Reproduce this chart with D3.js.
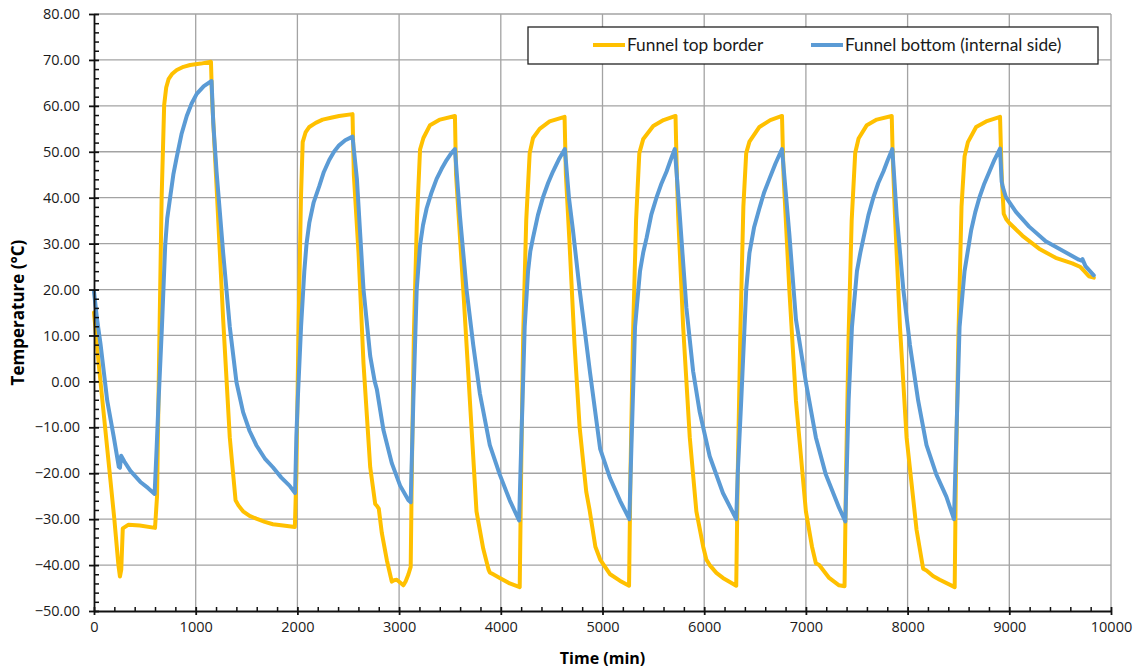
<!DOCTYPE html>
<html>
<head>
<meta charset="utf-8">
<script src="https://cdn.jsdelivr.net/npm/d3@7"></script>
<style>
  body { margin: 0; background: #fff; }
  .tick text { font-family: 'Open Sans', sans-serif; font-size: 14.5px; fill: #1a1a1a; }
</style>
</head>
<body>
<svg id="chart"></svg>
<script>
// Funnel top border (yellow)
const topTime = [
  0, 50, 100, 150, 200, 240, 255, 268, 283, 340, 450, 600,
  620, 640, 665, 690, 710, 733, 770, 814, 880, 945, 1050, 1150,
  1160, 1205, 1270, 1335, 1392, 1420, 1466, 1530, 1596, 1680, 1759, 1860, 1975,
  1990, 2010, 2035, 2052, 2080, 2117, 2180, 2248, 2330, 2410, 2542,
  2555, 2601, 2650, 2716, 2765, 2785, 2800, 2830, 2880, 2928, 2950, 2977, 3010, 3042, 3065, 3092, 3114,
  3125, 3145, 3175, 3206, 3239, 3304, 3402, 3549,
  3560, 3631, 3696, 3761, 3827, 3880, 3892, 3925, 3990, 4088, 4186,
  4200, 4220, 4250, 4284, 4317, 4382, 4480, 4627,
  4640, 4676, 4725, 4775, 4840, 4873, 4930, 4977, 5075, 5170, 5261,
  5275, 5300, 5330, 5362, 5401, 5499, 5600, 5718,
  5730, 5744, 5793, 5858, 5923, 5990, 6021, 6054, 6120, 6184, 6315,
  6330, 6355, 6385, 6413, 6445, 6543, 6650, 6765,
  6780, 6837, 6902, 7000, 7060, 7098, 7131, 7229, 7326, 7380,
  7395, 7420, 7450, 7485, 7518, 7599, 7697, 7844,
  7855, 7876, 7925, 7990, 8088, 8153, 8186, 8250, 8316, 8463,
  8475, 8500, 8530, 8560, 8593, 8674, 8772, 8909,
  8925, 8945, 8970, 9000, 9130, 9293, 9456, 9619, 9700, 9733, 9782, 9831
];
const topTemp = [
  15, 3, -8, -19, -30, -40, -42.5, -41, -32, -31.2, -31.4, -31.9,
  -25, 5, 40, 60.2, 64, 65.8, 67, 67.8, 68.5, 68.9, 69.2, 69.6,
  62, 42.5, 13.5, -12.2, -25.9, -27, -28.3, -29.3, -29.9, -30.6, -31.1, -31.4, -31.7,
  -20, 10, 40, 52.1, 54.2, 55.4, 56.3, 57, 57.4, 57.8, 58.2,
  45, 28, 3.9, -18.7, -26.7, -27.2, -27.7, -33, -39, -43.6, -43.3, -43.2, -43.8, -44.4, -43.5, -42, -40.4,
  -20, 10, 35, 50.5, 53, 55.8, 57, 57.8,
  45, 20, -4.2, -28.3, -36.4, -41, -41.6, -42, -42.8, -44, -44.8,
  -20, 10, 35, 49.7, 53, 55, 56.6, 57.6,
  45, 30, 8, -10, -24, -28, -36, -38.8, -42, -43.4, -44.5,
  -20, 10, 35, 49.7, 52.8, 55.6, 56.9, 57.8,
  46, 36.1, 11.9, -12.2, -28.3, -36, -38.8, -40, -41.7, -42.8, -44.5,
  -20, 10, 38, 49.7, 52.2, 55.4, 56.9, 57.8,
  45, 20, -4.2, -28.3, -36, -39.6, -40, -42.8, -44.4, -44.6,
  -20, 10, 35, 49.8, 52.9, 55.8, 57, 57.8,
  48, 36.1, 11.9, -12.2, -32.3, -40.8, -41.2, -42.4, -43.2, -44.8,
  -20, 10, 38, 49, 52.1, 55.4, 56.6, 57.6,
  45, 36.5, 35.3, 34.5, 31.7, 28.9, 26.9, 25.7, 24.9, 24.1, 22.9, 22.6
];

// Funnel bottom, internal side (blue)
const bottomTime = [
  0, 30, 65, 130, 195, 244, 255, 267, 300, 358, 456, 530, 596,
  615, 635, 668, 700, 720, 749, 780, 814, 860, 912, 960, 1010, 1080, 1156,
  1173, 1205, 1270, 1335, 1401, 1466, 1530, 1596, 1680, 1759, 1840, 1922, 1977,
  1990, 2003, 2036, 2068, 2090, 2117, 2160, 2215, 2260, 2313, 2360, 2410, 2470, 2542,
  2585, 2650, 2716, 2760, 2781, 2846, 2928, 3010, 3092, 3114,
  3140, 3173, 3206, 3235, 3271, 3320, 3369, 3418, 3467, 3510, 3549,
  3598, 3663, 3729, 3794, 3892, 3990, 4088, 4180,
  4203, 4235, 4268, 4290, 4317, 4365, 4415, 4465, 4513, 4570, 4630,
  4670, 4709, 4775, 4877, 4977, 5075, 5173, 5264,
  5287, 5320, 5369, 5400, 5434, 5480, 5532, 5580, 5630, 5670, 5711,
  5760, 5825, 5891, 5956, 6054, 6184, 6315,
  6330, 6364, 6413, 6445, 6490, 6543, 6590, 6641, 6700, 6765,
  6837, 6902, 7000, 7098, 7196, 7326, 7388,
  7420, 7453, 7502, 7535, 7567, 7615, 7664, 7712, 7762, 7805, 7850,
  7893, 7958, 8023, 8104, 8186, 8283, 8381, 8456,
  8479, 8511, 8560, 8625, 8665, 8707, 8755, 8805, 8855, 8909,
  8925, 8935, 8967, 9065, 9195, 9358, 9521, 9684, 9710, 9720, 9749, 9831
];
const bottomTemp = [
  19.5, 13.5, 8, -4.2, -12.2, -18.6, -18.8, -16.2, -17.5, -19.5, -21.9, -23.2, -24.5,
  -15, -4.2, 11.9, 29.6, 35.5, 40.1, 45, 48.9, 53.8, 57.8, 60.5, 62.6, 64.3, 65.4,
  56.2, 45.7, 28, 11.9, -0.2, -6.7, -10.8, -13.9, -16.8, -18.7, -20.9, -22.7, -24.3,
  -12, -4.2, 11.9, 24, 30, 34.5, 39, 42.5, 45.6, 48.2, 50, 51.4, 52.5, 53.3,
  44.1, 20, 5.5, 0, -1.7, -10.6, -17.8, -22.7, -25.9, -26.3,
  -4.2, 20, 29.6, 34, 37.7, 41.2, 44.1, 46.3, 48.2, 49.6, 50.6,
  36.1, 20, 7.9, -2.6, -13.9, -20.3, -25.9, -30.3,
  -12.2, 11.9, 24, 28.3, 31.3, 36.2, 40.1, 43.2, 45.7, 48.3, 50.6,
  40, 33, 20, 2, -14.7, -21.1, -26, -30,
  -12.2, 11.9, 24, 28, 31.3, 36.3, 40.1, 43.1, 45.7, 48.2, 50.6,
  36.1, 16, 2.2, -6.7, -16.3, -24.3, -30,
  -20, -4.2, 20, 28, 33.5, 37.7, 41.2, 44.1, 47.4, 50.6,
  32.1, 13.5, -0.2, -12.2, -20.3, -27.5, -30.5,
  -4.2, 11.9, 24, 28, 31.3, 36.2, 40.1, 43.2, 45.7, 48.2, 50.6,
  36.1, 20, 7.9, -4.2, -13.9, -20.3, -25.1, -30,
  -12.2, 11.9, 24, 32.9, 36.8, 40.1, 43.1, 45.7, 48.3, 50.7,
  43.5, 42.4, 40.1, 36.9, 33.7, 30.5, 28.5, 26.5, 26.3, 26.6, 25.1, 23.1
];

const xMajor = [0, 1000, 2000, 3000, 4000, 5000, 6000, 7000, 8000, 9000, 10000];
const yMajor = [-50, -40, -30, -20, -10, 0, 10, 20, 30, 40, 50, 60, 70, 80];
const seriesNames = ['Funnel top border', 'Funnel bottom (internal side)'];
const seriesColors = ['#FFC000', '#5B9BD5'];

const width = 1141;
const height = 669;
const margin = {left: 94, right: 30, top: 14, bottom: 58};

const svg = d3.select('#chart')
    .attr('width', width)
    .attr('height', height);

const x = d3.scaleLinear()
    .domain([0, 10000])
    .range([margin.left, width - margin.right]);

const y = d3.scaleLinear()
    .domain([-50, 80])
    .range([height - margin.bottom, margin.top]);

// grid
const grid = svg.append('g').attr('class', 'grid');
grid.selectAll('.vgrid')
    .data(xMajor.filter((d) => d > 0))
    .enter()
    .append('line')
    .attr('x1', (d) => x(d))
    .attr('x2', (d) => x(d))
    .attr('y1', y(80))
    .attr('y2', y(-50))
    .style('stroke', '#a3a3a3')
    .style('stroke-width', 1.3);
grid.selectAll('.hgrid')
    .data(yMajor.filter((d) => d > -50))
    .enter()
    .append('line')
    .attr('x1', x(0))
    .attr('x2', x(10000))
    .attr('y1', (d) => y(d))
    .attr('y2', (d) => y(d))
    .style('stroke', '#a3a3a3')
    .style('stroke-width', 1.3);

// lines
function toPoints(ts, vs) {
  return ts.map(function(t, i) {
    return {t: t, v: vs[i]};
  });
}

const line = d3.line()
    .x((d) => x(d.t))
    .y((d) => y(d.v));

const series = [toPoints(topTime, topTemp), toPoints(bottomTime, bottomTemp)];

svg.append('g')
    .selectAll('path')
    .data(series)
    .enter()
    .append('path')
    .attr('d', line)
    .style('fill', 'none')
    .style('stroke', (d, i) => seriesColors[i])
    .style('stroke-width', 4)
    .style('stroke-linejoin', 'round')
    .style('stroke-linecap', 'round');

// axes
const xMinor = d3.range(0, 10001, 200).filter((d) => d % 1000 !== 0);
const yMinor = d3.range(-50, 81, 2).filter((d) => d % 10 !== 0);

svg.append('g')
    .attr('transform', 'translate(0,' + y(-50) + ')')
    .call(d3.axisBottom(x).tickValues(xMinor).tickSize(-4).tickFormat(''))
    .call((g) => g.select('.domain').remove())
    .selectAll('line')
    .style('stroke', '#111')
    .style('stroke-width', 1.5);

svg.append('g')
    .attr('transform', 'translate(' + x(0) + ',0)')
    .call(d3.axisLeft(y).tickValues(yMinor).tickSize(-5).tickFormat(''))
    .call((g) => g.select('.domain').remove())
    .selectAll('line')
    .style('stroke', '#111')
    .style('stroke-width', 1.5);

const xAxis = svg.append('g')
    .attr('transform', 'translate(0,' + y(-50) + ')')
    .call(d3.axisBottom(x).tickValues(xMajor).tickSize(4).tickSizeOuter(0).tickPadding(7)
        .tickFormat(d3.format('d')));
xAxis.selectAll('.tick line').attr('y1', -4);

const yAxis = svg.append('g')
    .attr('transform', 'translate(' + x(0) + ',0)')
    .call(d3.axisLeft(y).tickValues(yMajor).tickSize(5).tickSizeOuter(0).tickPadding(9)
        .tickFormat(d3.format('.2f')));
yAxis.selectAll('.tick line').attr('x1', 5);

[xAxis, yAxis].forEach(function(g) {
  g.selectAll('line, .domain')
      .style('stroke', '#111')
      .style('stroke-width', 1.8);
});

// titles
svg.append('text')
    .attr('x', x(5000))
    .attr('y', 664)
    .attr('text-anchor', 'middle')
    .style('font-family', 'Open Sans, sans-serif')
    .style('font-weight', 'bold')
    .style('font-size', '16px')
    .text('Time (min)');

svg.append('text')
    .attr('transform', 'translate(24,' + y(15) + ') rotate(-90)')
    .attr('text-anchor', 'middle')
    .style('font-family', 'Open Sans, sans-serif')
    .style('font-weight', 'bold')
    .style('font-size', '17px')
    .text('Temperature (°C)');

// legend
const legend = svg.append('g').attr('class', 'legend');
legend.append('rect')
    .attr('x', 528)
    .attr('y', 27)
    .attr('width', 570)
    .attr('height', 37)
    .style('fill', '#fff')
    .style('stroke', '#222')
    .style('stroke-width', 1.3);

const legendX = [593, 811];
const legendItem = legend.selectAll('.item')
    .data(seriesNames)
    .enter()
    .append('g')
    .attr('transform', (d, i) => 'translate(' + legendX[i] + ',45)');

legendItem.append('line')
    .attr('x1', 0)
    .attr('x2', 32)
    .style('stroke', (d, i) => seriesColors[i])
    .style('stroke-width', 4);

legendItem.append('text')
    .attr('x', 34)
    .attr('dy', '0.35em')
    .style('font-family', 'Lato, sans-serif')
    .style('font-size', '17.3px')
    .style('fill', '#1a1a1a')
    .text((d) => d);
</script>
</body>
</html>
